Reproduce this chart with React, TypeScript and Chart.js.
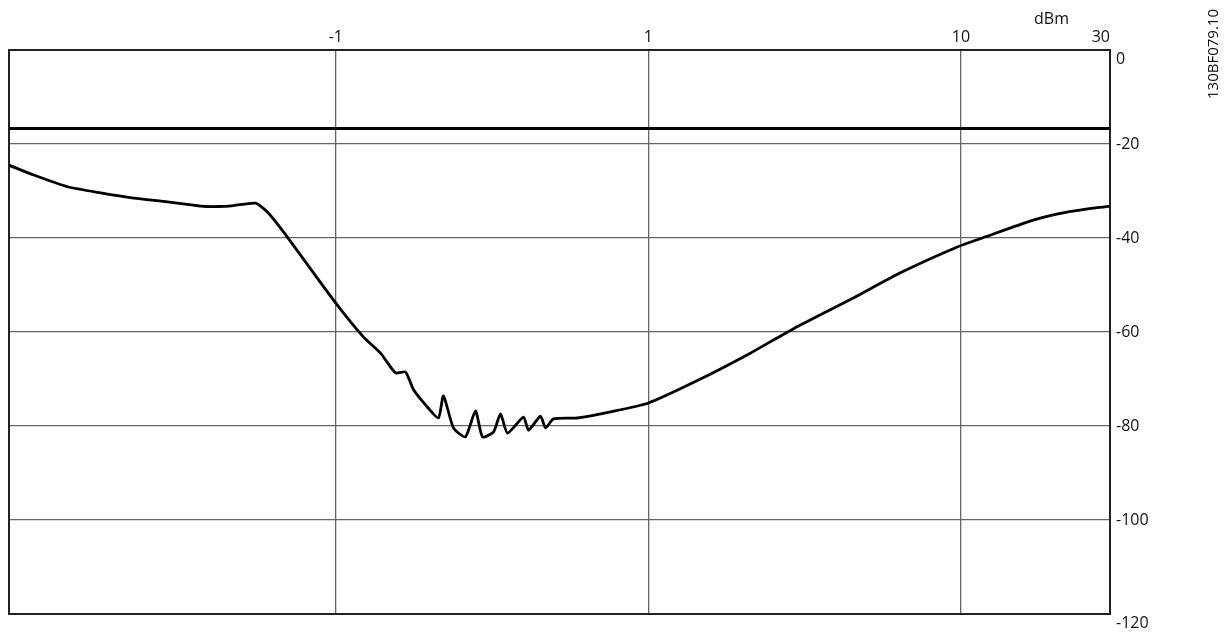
import React, { useEffect, useRef } from "react";
import { Chart, registerables } from "chart.js";

Chart.register(...registerables);

// Frequency (MHz, log axis) and level (dB) of the measured curve
const freqMHz = [
  0.009, 0.0108, 0.01387, 0.01769, 0.02255, 0.02896, 0.0369, 0.04184, 0.0471, 0.05535,
  0.0605, 0.068, 0.0983, 0.1227, 0.139, 0.1553, 0.1671, 0.1773, 0.1965, 0.213,
  0.221, 0.2379, 0.2599, 0.2798, 0.2946, 0.3195, 0.3364, 0.3542, 0.3986, 0.4136,
  0.4517, 0.4687, 0.4972, 0.5933, 0.7565, 1.0, 1.468, 2.12, 2.607, 3.065,
  4.43, 6.4, 9.74, 11.71, 17.04, 21.89, 30,
];
const levelDb = [
  -24.5, -26.6, -29.1, -30.4, -31.5, -32.3, -33.2, -33.3, -33.1, -32.6,
  -34.5, -38.7, -53.2, -61.1, -64.5, -68.7, -68.5, -72.3, -76.0, -78.3,
  -73.6, -80.4, -82.3, -76.8, -82.3, -81.3, -77.4, -81.5, -78.1, -80.9,
  -77.9, -80.4, -78.5, -78.3, -77.0, -75.1, -70.0, -64.5, -61.1, -58.5,
  -53.1, -47.4, -41.9, -40.0, -36.2, -34.5, -33.2,
];

// Horizontal limit line
const limitFreq = [0.009, 30];
const limitDb = [-16.7, -16.7];

// Axis ticks
const xTickValues = [0.009, 0.1, 1, 10, 30];
const xTickLabels = ["", "-1", "1", "10", "30"];
const yTickValues = [-120, -100, -80, -60, -40, -20, 0];
const yTickLabels = ["-120", "-100", "-80", "-60", "-40", "-20", "0"];
const yMin = -120;
const yMax = 0;

const xMin = 0.009;
const xMax = 30;

const FONT = "'Open Sans', sans-serif";
const TEXT = "#111111";
const FRAME = "#222222";
const GRID = "#666666";

export default function App() {
  const ref = useRef<HTMLCanvasElement>(null);

  useEffect(() => {
    const curve = freqMHz.map((f, i) => ({ x: f, y: levelDb[i] }));
    const limit = limitFreq.map((f, i) => ({ x: f, y: limitDb[i] }));
    const chart = new Chart(ref.current as HTMLCanvasElement, {
      type: "line",
      data: {
        datasets: [
          {
            data: limit,
            borderColor: "#000",
            borderWidth: 3,
            pointRadius: 0,
            tension: 0,
            xAxisID: "x",
            yAxisID: "y",
          },
          {
            data: curve,
            borderColor: "#000",
            borderWidth: 2.8,
            pointRadius: 0,
            tension: 0.2,
            xAxisID: "x",
            yAxisID: "y",
          },
        ],
      },
      options: {
        animation: false,
        responsive: false,
        events: [],
        layout: { padding: { left: 1, right: 0, top: 0, bottom: 21 } },
        plugins: { legend: { display: false }, tooltip: { enabled: false } },
        scales: {
          x: {
            type: "logarithmic",
            position: "top",
            min: xMin,
            max: xMax,
            afterBuildTicks: (s: any) => {
              s.ticks = xTickValues.map((v) => ({ value: v }));
            },
            afterFit: (s: any) => {
              s.height = 42;
              s.paddingLeft = 0;
              s.paddingRight = 0;
            },
            ticks: {
              autoSkip: false,
              maxRotation: 0,
              minRotation: 0,
              align: "inner",
              padding: 3,
              color: TEXT,
              font: { family: FONT, size: 16 },
              callback: (_v: any, i: number) => xTickLabels[i],
            },
            grid: { color: GRID, lineWidth: 1.3, drawTicks: false },
            border: { display: true, color: FRAME, width: 2 },
          },
          x2: {
            type: "logarithmic",
            position: "bottom",
            min: xMin,
            max: xMax,
            ticks: { display: false },
            grid: { display: false, drawTicks: false },
            border: { display: true, color: FRAME, width: 2 },
            afterFit: (s: any) => {
              s.height = 0;
            },
          },
          y: {
            type: "linear",
            position: "right",
            min: yMin,
            max: yMax,
            afterBuildTicks: (s: any) => {
              s.ticks = yTickValues.map((v) => ({ value: v }));
            },
            afterFit: (s: any) => {
              s.width = 113;
              s.paddingTop = 0;
              s.paddingBottom = 0;
            },
            ticks: {
              autoSkip: false,
              padding: 6,
              color: TEXT,
              font: { family: FONT, size: 16 },
              callback: (_v: any, i: number) => {
                const lbl = yTickLabels[i];
                // end labels sit just below their gridline, as in the reference
                return i === 0 || i === yTickLabels.length - 1 ? ["", lbl] : lbl;
              },
            },
            grid: { color: GRID, lineWidth: 1.3, drawTicks: false },
            border: { display: true, color: FRAME, width: 2 },
          },
          y2: {
            type: "linear",
            position: "left",
            min: yMin,
            max: yMax,
            ticks: { display: false },
            grid: { display: false, drawTicks: false },
            border: { display: true, color: FRAME, width: 2 },
            afterFit: (s: any) => {
              s.width = 0;
            },
          },
        },
      } as any,
    });
    return () => chart.destroy();
  }, []);

  return (
    <div style={{ position: "relative", width: 1215, height: 621, fontFamily: FONT }}>
      <canvas
        ref={ref}
        width={1215}
        height={627}
        style={{ display: "block", position: "absolute", left: 0, top: 0 }}
      />
      <div
        style={{
          position: "absolute",
          left: 1026,
          top: 1,
          fontSize: 16,
          lineHeight: "18px",
          color: TEXT,
          whiteSpace: "nowrap",
        }}
      >
        dBm
      </div>
      <div
        style={{
          position: "absolute",
          left: 1196,
          top: 91,
          fontSize: 15,
          lineHeight: "16px",
          transform: "rotate(-90deg)",
          transformOrigin: "left top",
          color: TEXT,
          whiteSpace: "nowrap",
        }}
      >
        130BF079.10
      </div>
    </div>
  );
}
